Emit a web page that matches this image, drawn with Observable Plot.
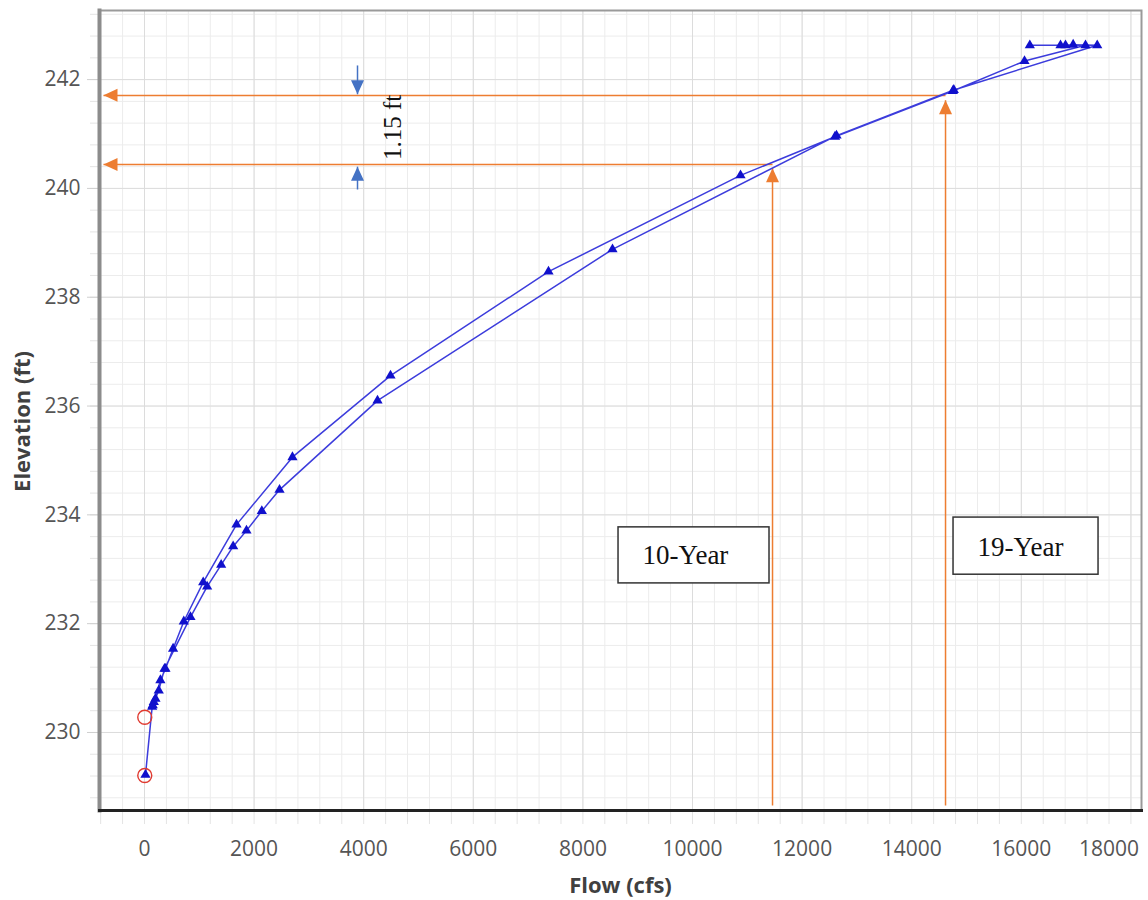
<!DOCTYPE html>
<html><head><meta charset="utf-8">
<script src="https://cdn.jsdelivr.net/npm/d3@7"></script>
<script src="https://cdn.jsdelivr.net/npm/@observablehq/plot@0.6"></script>
<style>html,body{margin:0;padding:0;background:#fff;overflow:hidden}#chart svg{display:block}</style>
</head><body><div id="chart"></div>
<script>
// Hysteresis loop of the rating curve (path order)
const flow = [18,140,170,260,365,839,1143,1399,1618,1861,2141,2464,4252,8540,12628,14768,17385,16946,16806,16715,16155,17171,16058,14750,12600,10876,7372,4489,2700,1679,1071,717,522,383,290,200,150];
const elev = [229.22,230.47,230.56,230.77,231.17,232.12,232.68,233.08,233.42,233.71,234.07,234.46,236.10,238.88,240.97,241.81,242.63,242.64,242.63,242.63,242.63,242.63,242.34,241.79,240.95,240.24,238.47,236.56,235.06,233.82,232.76,232.04,231.54,231.17,230.96,230.62,230.50];

// red open circles (start / end markers)
const circleFlow = [5, 5];
const circleElev = [229.21, 230.28];

// tick values
const xTicks = [0,2000,4000,6000,8000,10000,12000,14000,16000,18000];
const yTicks = [230,232,234,236,238,240,242];
const xDomain = [-821, 18193];
const yDomain = [228.566, 243.27];

// return-period annotations
const periodLabels = ["10-Year", "19-Year"];
const periodFlow = [11460, 14617];
const periodLevel = [240.44, 241.71];
const periodTip = [240.37, 241.62];
const leftTipFlow = -748;
const verticalBase = 228.66;
const boxFlow1 = [8650, 14763];
const boxFlow2 = [11405, 17409];
const boxTop = [233.77, 233.95];
const boxBottom = [232.74, 232.90];
const labelFlow = [9872, 15985];
const labelElev = [233.25, 233.40];

// difference dimension (blue)
const diffText = "1.15 ft";
const diffFlow = 3887;
const diffDownTop = 242.26, diffDownTip = 241.73;
const diffUpTip = 240.40, diffUpBottom = 239.98;
const diffLabelFlow = 4526, diffLabelElev = 241.12;

const points = flow.map((f, i) => ({flow: f, elev: elev[i]}));
const circles = circleFlow.map((f, i) => ({flow: f, elev: circleElev[i]}));
const annot = periodLabels.map((l, i) => ({
  label: l, flow: periodFlow[i], level: periodLevel[i], tip: periodTip[i],
  bx1: boxFlow1[i], bx2: boxFlow2[i], by1: boxBottom[i], by2: boxTop[i],
  tx: labelFlow[i], ty: labelElev[i]
}));

const xMinor = d3.range(-800, 18200, 400);
const yMinor = d3.range(228.8, 243.3, 0.4).map(v => +v.toFixed(1));

// arrowhead symbol with tip at origin, pointing up
const head = (len, half) => ({draw(ctx) { ctx.moveTo(0, 0); ctx.lineTo(half, len); ctx.lineTo(-half, len); ctx.closePath(); }});
const orangeHead = head(14, 6.5);
const blueHead = head(14, 6.5);

const ORANGE = "#ED7D31", BLUE_ANN = "#4472C4";
const tickFont = "'Open Sans', 'Noto Sans', sans-serif";

const chart = Plot.plot({
  width: 1148, height: 900,
  marginLeft: 99, marginRight: 7, marginTop: 10, marginBottom: 90,
  x: {domain: xDomain, axis: null},
  y: {domain: yDomain, axis: null},
  style: {fontFamily: tickFont, background: "#fff"},
  marks: [
    Plot.gridX(xMinor, {stroke: "#ececec", strokeOpacity: 1}),
    Plot.gridY(yMinor, {stroke: "#ececec", strokeOpacity: 1}),
    Plot.gridX(xTicks, {stroke: "#dcdcdc", strokeOpacity: 1}),
    Plot.gridY(yTicks, {stroke: "#dcdcdc", strokeOpacity: 1}),
    // outside tick marks
    Plot.axisX(xMinor, {tickSize: 14, tickFormat: () => "", stroke: "#e4e4e4", label: null}),
    Plot.axisY(yMinor, {tickSize: 9, tickFormat: () => "", stroke: "#e4e4e4", label: null}),
    Plot.axisY(yTicks, {tickSize: 12, tickPadding: 7, fontSize: 21, fill: "#555", stroke: "#cfcfcf", label: null, tickFormat: d => String(d)}),
    Plot.axisX(xTicks.slice(0, -1), {tickSize: 0, tickPadding: 31, fontSize: 21, fill: "#555", label: null, tickFormat: d => String(d)}),
    Plot.axisX(xTicks.slice(-1), {tickSize: 0, tickPadding: 31, dx: -22, fontSize: 21, fill: "#555", label: null, tickFormat: d => String(d)}),
    // axis titles
    Plot.text(["Elevation (ft)"], {frameAnchor: "left", textAnchor: "middle", lineAnchor: "middle", dx: -77, dy: 11, rotate: -90, fontSize: 22, fontWeight: "bold", fill: "#404040"}),
    Plot.text(["Flow (cfs)"], {frameAnchor: "bottom", textAnchor: "middle", lineAnchor: "middle", dy: 75, fontSize: 22, fontWeight: "bold", fill: "#404040"}),
    // frame
    Plot.frame({stroke: "#9a9a9a", strokeWidth: 2}),
    Plot.frame({anchor: "left", stroke: "#8c8c8c", strokeWidth: 4}),
    Plot.frame({anchor: "bottom", stroke: "#222", strokeWidth: 3}),
    // orange return-period lines
    Plot.link(annot, {x1: () => leftTipFlow, x2: "flow", y1: "level", y2: "level", stroke: ORANGE, strokeWidth: 1.5}),
    Plot.link(annot, {x1: "flow", x2: "flow", y1: () => verticalBase, y2: "tip", stroke: ORANGE, strokeWidth: 1.5}),
    Plot.dot(annot, {x: () => leftTipFlow, y: "level", symbol: orangeHead, rotate: -90, fill: ORANGE, stroke: null}),
    Plot.dot(annot, {x: "flow", y: "tip", symbol: orangeHead, fill: ORANGE, stroke: null}),
    // data
    Plot.line(points, {x: "flow", y: "elev", stroke: "#3c3cdc", strokeWidth: 1.5, curve: "linear"}),
    Plot.dot(points, {x: "flow", y: "elev", symbol: "triangle", r: 3.8, fill: "#1010cc", stroke: null}),
    Plot.dot(circles, {x: "flow", y: "elev", r: 7, fill: "none", stroke: "#e03a30", strokeWidth: 1.4}),
    // blue dimension arrows
    Plot.link([diffFlow], {x1: d => d, x2: d => d, y1: () => diffDownTop, y2: () => diffDownTip, stroke: BLUE_ANN, strokeWidth: 1.5}),
    Plot.link([diffFlow], {x1: d => d, x2: d => d, y1: () => diffUpTip, y2: () => diffUpBottom, stroke: BLUE_ANN, strokeWidth: 1.5}),
    Plot.dot([diffFlow], {x: d => d, y: () => diffDownTip, symbol: blueHead, rotate: 180, fill: BLUE_ANN, stroke: null}),
    Plot.dot([diffFlow], {x: d => d, y: () => diffUpTip, symbol: blueHead, fill: BLUE_ANN, stroke: null}),
    Plot.text([diffText], {x: () => diffLabelFlow, y: () => diffLabelElev, rotate: -90, fontFamily: "'Liberation Serif', serif", fontSize: 25, letterSpacing: "2px", fill: "#111"}),
    // labelled boxes
    Plot.rect(annot, {x1: "bx1", x2: "bx2", y1: "by1", y2: "by2", fill: "#fff", stroke: "#333", strokeWidth: 1.5}),
    Plot.text(annot, {x: "tx", y: "ty", text: "label", fontFamily: "'Liberation Serif', serif", fontSize: 27, fill: "#111"})
  ]
});
document.getElementById("chart").appendChild(chart);
</script>
</body></html>
